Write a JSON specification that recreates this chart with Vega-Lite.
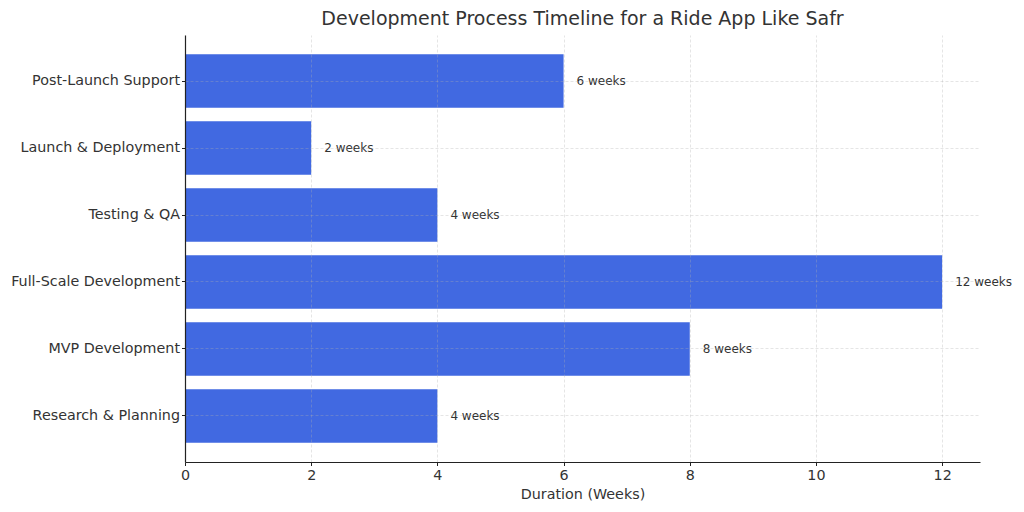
{
  "$schema": "https://vega.github.io/schema/vega-lite/v6.json",
  "width": 795,
  "height": 427,
  "autosize": {"type": "none"},
  "padding": {"left": 185, "top": 35, "right": 44, "bottom": 50},
  "background": "white",
  "config": {
    "view": {"stroke": null},
    "font": "DejaVu Sans"
  },
  "title": {
    "text": "Development Process Timeline for a Ride App Like Safr",
    "font": "DejaVu Sans",
    "fontSize": 19,
    "fontWeight": "normal",
    "color": "#333333",
    "offset": 6
  },
  "data": {
    "values": [
      {"phase": "Research & Planning", "weeks": 4},
      {"phase": "MVP Development", "weeks": 8},
      {"phase": "Full-Scale Development", "weeks": 12},
      {"phase": "Testing & QA", "weeks": 4},
      {"phase": "Launch & Deployment", "weeks": 2},
      {"phase": "Post-Launch Support", "weeks": 6}
    ]
  },
  "encoding": {
    "y": {
      "field": "phase",
      "type": "nominal",
      "sort": ["Post-Launch Support", "Launch & Deployment", "Testing & QA", "Full-Scale Development", "MVP Development", "Research & Planning"],
      "scale": {"paddingInner": 0.2, "paddingOuter": 0.287},
      "axis": {
        "title": null,
        "zindex": 1,
        "grid": true,
        "bandPosition": 0.5,
        "gridColor": "#b0b0b0",
        "gridOpacity": 0.55,
        "gridDash": [3, 2],
        "gridWidth": 0.6,
        "domainColor": "#222222",
        "domainWidth": 1.2,
        "tickColor": "#222222",
        "tickSize": 3.5,
        "labelFont": "DejaVu Sans",
        "labelFontSize": 14.3,
        "labelColor": "#333333",
        "labelPadding": 2
      }
    },
    "x": {
      "field": "weeks",
      "type": "quantitative",
      "scale": {"domain": [0, 12.6], "nice": false, "zero": true},
      "axis": {
        "title": "Duration (Weeks)",
        "titleFont": "DejaVu Sans",
        "titleFontSize": 14.3,
        "titleFontWeight": "normal",
        "titleColor": "#333333",
        "titlePadding": 5,
        "values": [0, 2, 4, 6, 8, 10, 12],
        "labelFlush": false,
        "zindex": 1,
        "grid": true,
        "gridColor": "#b0b0b0",
        "gridOpacity": 0.55,
        "gridDash": [3, 2],
        "gridWidth": 0.6,
        "domainColor": "#222222",
        "domainWidth": 1.2,
        "tickColor": "#222222",
        "tickSize": 3.5,
        "labelFont": "DejaVu Sans",
        "labelFontSize": 14.3,
        "labelColor": "#333333",
        "labelPadding": 3
      }
    }
  },
  "layer": [
    {
      "mark": {"type": "bar", "color": "#4169E1"}
    },
    {
      "mark": {"type": "text", "align": "left", "baseline": "middle", "dx": 13, "fontSize": 12, "font": "DejaVu Sans", "color": "#333333"},
      "encoding": {
        "text": {"field": "label"}
      },
      "transform": [{"calculate": "datum.weeks + ' weeks'", "as": "label"}]
    }
  ]
}
